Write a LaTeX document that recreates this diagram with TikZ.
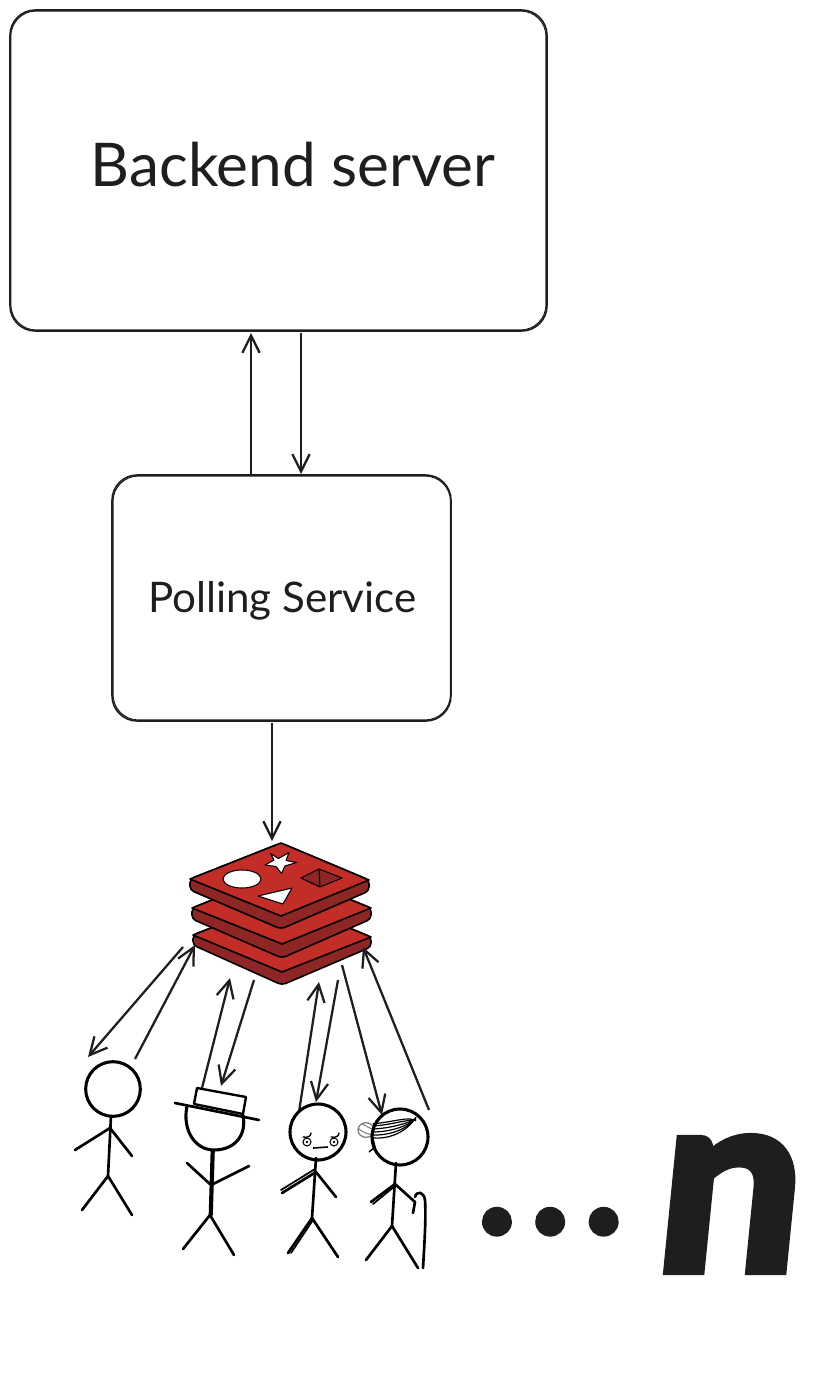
\documentclass[tikz,border=0pt]{standalone}
\usepackage{fontspec}
\setmainfont{Lato}
\newfontfamily\nfont[FakeBold=4,FakeSlant=0.1]{Lato Bold}
\newfontfamily\dotfont[FakeBold=1.5]{Lato Bold}
\usetikzlibrary{arrows.meta,shapes.geometric}
\definecolor{ink}{HTML}{1E1E1E}
\definecolor{redtop}{HTML}{C32D28}
\definecolor{redside}{HTML}{8F2626}
\tikzset{
  sbox/.style={draw=ink,line width=1.2pt,rounded corners=19pt,inner sep=0pt},
  sketch/.style={draw=ink,line width=.8pt,rounded corners=19pt},
  label/.style={inner sep=0pt,text=ink},
  conn/.style={draw=ink,line width=1.7pt,-{Straight Barb[length=13pt,width=13pt,line width=1.7pt]}},
  head/.style={circle,draw=black,line width=2.3pt,inner sep=0pt},
  limb/.style={draw=black,line width=2pt,line cap=round,line join=round},
  thin limb/.style={draw=black,line width=1pt,line cap=round},
  face/.style={fill=redtop,draw=black,line width=1.2pt,line join=round},
  side/.style={fill=redside,draw=black,line width=1.2pt,line join=round,rounded corners=3pt},
  mark shape/.style={fill=white,draw=black,line width=.8pt,line join=round},
}
\begin{document}
\begin{tikzpicture}[x=.75pt,y=-.75pt]
\useasboundingbox (0,0) rectangle (828,1399);
% boxes
\node[sbox,minimum width=402.75pt,minimum height=240.75pt] (backend) at (278.5,170.5) {};
\node[sbox,minimum width=254.25pt,minimum height=184.5pt] (polling) at (281.5,598) {};
\draw[sketch] (10.8,11) rectangle (546,330);
\draw[sketch] (113,476) rectangle (450.5,720);
\node[label,font=\fontsize{45.2}{50}\selectfont] (backendtext) at (293,165) {Backend server};
\node[label,font=\fontsize{31.6}{36}\selectfont] (pollingtext) at (282.5,601) {Polling Service};
% connector ends
\coordinate (bu) at (251,333);
\coordinate (bd) at (301,333);
\coordinate (pu) at (251,474);
\coordinate (pd) at (301,474);
\coordinate (ps) at (272,723);
\coordinate (rt) at (272,841);
\draw[conn] (pu) -- (bu);
\draw[conn] (bd) -- (pd);
\draw[conn] (ps) -- (rt);
% redis: bottom layer
\path[side] (193,935) -- (193,945) -- (282,985) -- (371,947) -- (371,937) -- (282,900) -- cycle;
\path[face] (193,935) -- (282,900) -- (371,937) -- (282,972) -- cycle;
% middle layer
\path[side] (192,908) -- (192,919) -- (282,958) -- (371,919) -- (371,908) -- (282,872) -- cycle;
\path[face] (192,908) -- (282,872) -- (371,908) -- (282,944) -- cycle;
% top layer
\path[side] (190,879) -- (190,890) -- (281,929) -- (369,891) -- (369,880) -- (281,843) -- cycle;
\path[face] (190,879) -- (281,843) -- (369,880) -- (281,916) -- cycle;
\path[mark shape] (242,879) ellipse [x radius=14.25pt,y radius=6.75pt];
\path[mark shape] (270.5,853.5) -- (278.5,858.5) -- (289,852.5) -- (286,860.5) -- (296.5,862.5) -- (285,866) -- (281.5,873.5) -- (276,866.5) -- (265,865) -- (274,860) -- cycle;
\path[mark shape] (258,896) -- (292,888) -- (283,904) -- cycle;
\path[fill=redside,draw=black,line width=.8pt,line join=round] (301,878) -- (319,869) -- (342,878) -- (320,887) -- cycle;
\draw[black,line width=.8pt] (319,869) -- (320,887);
% connector ends at redis and people
\coordinate (a1) at (183,947);
\coordinate (a2) at (88,1057);
\coordinate (b1) at (135,1059);
\coordinate (b2) at (195,945);
\coordinate (c1) at (202,1088);
\coordinate (c2) at (230,978);
\coordinate (d1) at (254,980);
\coordinate (d2) at (221,1086);
\coordinate (e1) at (299,1112);
\coordinate (e2) at (319,982);
\coordinate (f1) at (338,980);
\coordinate (f2) at (316,1102);
\coordinate (g1) at (342,965);
\coordinate (g2) at (382,1115);
\coordinate (h1) at (429,1110);
\coordinate (h2) at (363,947);
\foreach \s/\t in {a1/a2,b1/b2,c1/c2,d1/d2,e1/e2,f1/f2,g1/g2,h1/h2}
  \draw[conn] (\s) -- (\t);
% person 1
\node[head,minimum size=41pt] (head1) at (113,1089) {};
\draw[limb] (111,1116) -- (108,1176);
\draw[limb] (75,1150) -- (110,1128) -- (132,1156);
\draw[limb] (82,1210) -- (108,1176) -- (132,1215);
% person 2
\draw[black,line width=2.3pt] (187,1106) .. controls (182,1130) and (195,1150) .. (214,1150) .. controls (235,1150) and (247,1135) .. (243,1115);
\path[draw=black,line width=1.8pt,fill=white,line join=round] (197,1088) -- (246,1097) -- (243,1114) -- (194,1104) -- cycle;
\draw[limb] (175,1103) -- (259,1120);
\draw[limb] (212,1150) -- (210,1215);
\draw[limb] (213.5,1150) -- (211.5,1215);
\draw[limb] (187,1163) -- (211,1185) -- (249,1166);
\draw[limb] (183,1249) -- (210,1215) -- (234,1255);
% person 3
\node[head,minimum size=42pt] (head3) at (318,1132) {};
\draw[limb] (316,1158) -- (312,1218);
\draw[limb,line width=1.3pt] (281,1190) -- (315,1169);
\draw[limb] (282,1193) -- (316,1172) -- (336,1197);
\draw[limb] (288,1253) -- (312,1218) -- (338,1257);
\draw[limb,line width=1.3pt] (291,1253) -- (313,1220);
\node[circle,draw=black,line width=.8pt,minimum size=6pt,inner sep=0pt,fill=white] (eye1) at (307,1142) {};
\node[circle,draw=black,line width=.8pt,minimum size=6pt,inner sep=0pt,fill=white] (eye2) at (334,1142) {};
\fill[black] (eye1.center) circle (1pt) (eye2.center) circle (1pt);
\draw[thin limb] (303,1137) .. controls (308,1138) and (311,1136) .. (311,1133);
\draw[thin limb] (331,1137) .. controls (336,1138) and (339,1136) .. (339,1133);
\draw[black,line width=1.2pt] (313,1148) -- (328,1147);
% person 4
\node[draw=gray,line width=1pt,ellipse,minimum width=12pt,minimum height=11pt,inner sep=0pt] (bun) at (366,1130) {};
\draw[gray,line width=.8pt] (358,1128) .. controls (364,1134) and (369,1134) .. (374,1135);
\draw[gray,line width=.8pt] (362,1124) .. controls (368,1126) and (370,1130) .. (373,1128);
\node[head,minimum size=42pt] (head4) at (400,1137) {};
\foreach \d in {0,4,8,12,16,19}
  \draw[black,line width=.9pt] (373,{1138-\d*.75}) .. controls ({385+\d*.5},{1139-\d*.9}) and ({405+\d*.2},{1135-\d}) .. (416,{1117+\d*.2});
\draw[black,line width=1.1pt] (372,1135) -- (375,1147) -- (369,1152);
\draw[limb] (396,1163) -- (392,1226);
\draw[limb] (371,1202) -- (395,1184) -- (415,1202) -- (413,1213);
\draw[limb,line width=1.3pt] (373,1204) -- (395,1186);
\draw[limb] (366,1260) -- (392,1226) -- (418,1268);
\draw[limb] (423,1268) .. controls (425,1235) and (426,1215) .. (425,1200) .. controls (424,1192) and (417,1190) .. (415,1197);
% dots and n
\node[inner sep=0pt,anchor=base west,text=ink] (dotsn) at (470,1270)
  {\raisebox{27pt}{\dotfont\fontsize{135}{135}\selectfont\makebox[40pt]{.}\makebox[40pt]{.}\makebox[40pt]{.}}\hspace{17pt}{\nfont\fontsize{190}{190}\selectfont n}};
\end{tikzpicture}
\end{document}
